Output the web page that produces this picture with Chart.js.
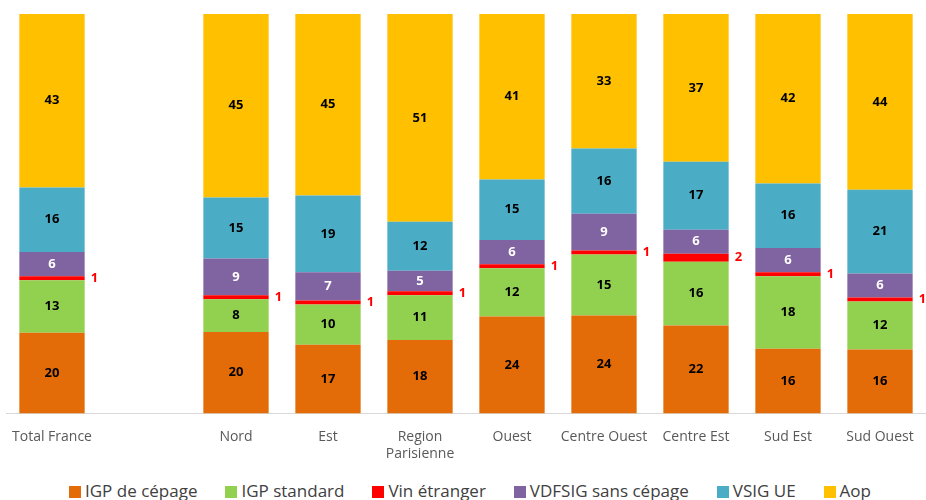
<!DOCTYPE html>
<html>
<head>
<meta charset="utf-8">
<script src="https://cdn.jsdelivr.net/npm/chart.js@4/dist/chart.umd.min.js"></script>
<style>
    html, body { margin: 0; padding: 0; background: #ffffff; }
    #wrap { position: relative; width: 926px; height: 500px; overflow: hidden; }
    #box { position: absolute; left: 0; top: 0; width: 926px; height: 470px; }
    #legend {
        position: absolute; left: 7px; top: 479px; width: 926px; text-align: center;
        font-family: 'Open Sans', sans-serif;
        font-size: 17px; line-height: 23px; color: #404040; white-space: nowrap;
    }
    #legend span.item { margin: 0 14px; }
    #legend span.sw {
        display: inline-block; width: 12px; height: 12px; margin-right: 4px;
        vertical-align: -1px;
    }
</style>
</head>
<body>
<div id="wrap">
    <div id="box"><canvas id="regionChart"></canvas></div>
    <div id="legend"></div>
</div>
<script>
var regions = ['Total France', '', 'Nord', 'Est', ['Region', 'Parisienne'], 'Ouest',
               'Centre Ouest', 'Centre Est', 'Sud Est', 'Sud Ouest'];

var igpCepage   = [20, null, 20, 17, 18, 24, 24, 22, 16, 16];
var igpStandard = [13, null,  8, 10, 11, 12, 15, 16, 18, 12];
var vinEtranger = [ 1, null,  1,  1,  1,  1,  1,  2,  1,  1];
var vdfsig      = [ 6, null,  9,  7,  5,  6,  9,  6,  6,  6];
var vsigUe      = [16, null, 15, 19, 12, 15, 16, 17, 16, 21];
var aop         = [43, null, 45, 45, 51, 41, 33, 37, 42, 44];

var series = [
    { label: 'IGP de cépage',      values: igpCepage,   color: '#E36C09', text: '#000000' },
    { label: 'IGP standard',       values: igpStandard, color: '#92D050', text: '#000000' },
    { label: 'Vin étranger',       values: vinEtranger, color: '#FF0000', text: '#FF0000', outside: true },
    { label: 'VDFSIG sans cépage', values: vdfsig,      color: '#8064A2', text: '#FFFFFF' },
    { label: 'VSIG UE',            values: vsigUe,      color: '#4BACC6', text: '#000000' },
    { label: 'Aop',                values: aop,         color: '#FFC000', text: '#000000' }
];

// 100% stacked: each column scaled to its own total
var totals = regions.map(function (r, i) {
    var t = 0;
    series.forEach(function (s) { t += s.values[i] || 0; });
    return t;
});

var datasets = series.map(function (s) {
    return {
        label: s.label,
        raw: s.values,
        textColor: s.text,
        outside: !!s.outside,
        data: s.values.map(function (v, i) { return v == null ? null : v / totals[i] * 100; }),
        backgroundColor: s.color,
        borderWidth: 0,
        barPercentage: 0.71,
        categoryPercentage: 1
    };
});

var valueLabels = {
    id: 'valueLabels',
    afterDatasetsDraw: function (chart) {
        var ctx = chart.ctx;
        ctx.save();
        ctx.textBaseline = 'middle';
        chart.data.datasets.forEach(function (ds, di) {
            chart.getDatasetMeta(di).data.forEach(function (bar, i) {
                var v = ds.raw[i];
                if (v == null) return;
                var y = (bar.y + bar.base) / 2;
                ctx.fillStyle = ds.textColor;
                ctx.font = 'bold 13px "Open Sans", sans-serif';
                if (ds.outside) {
                    ctx.textAlign = 'left';
                    ctx.fillText(v, bar.x + bar.width / 2 + 6, y);
                } else {
                    ctx.textAlign = 'center';
                    ctx.fillText(v, bar.x, y);
                }
            });
        });
        ctx.restore();
    }
};

new Chart(document.getElementById('regionChart'), {
    type: 'bar',
    data: { labels: regions, datasets: datasets },
    plugins: [valueLabels],
    options: {
        responsive: true,
        maintainAspectRatio: false,
        animation: false,
        layout: { padding: { top: 14, left: 6, right: 0, bottom: 0 } },
        plugins: {
            legend:  { display: false },
            tooltip: { enabled: false }
        },
        scales: {
            x: {
                stacked: true,
                grid: { display: false },
                border: { display: true, color: '#D9D9D9', width: 1 },
                ticks: {
                    color: '#595959',
                    font: { family: 'Open Sans, sans-serif', size: 14 },
                    padding: 7.5,
                    maxRotation: 0,
                    autoSkip: false
                }
            },
            y: {
                stacked: true,
                display: false,
                min: 0,
                max: 100
            }
        }
    }
});

// legend drawn as html under the plot
var legendEl = document.getElementById('legend');
series.forEach(function (s) {
    var item = document.createElement('span');
    item.className = 'item';
    item.innerHTML = '<span class="sw" style="background:' + s.color + '"></span>' + s.label;
    legendEl.appendChild(item);
});
</script>
</body>
</html>
